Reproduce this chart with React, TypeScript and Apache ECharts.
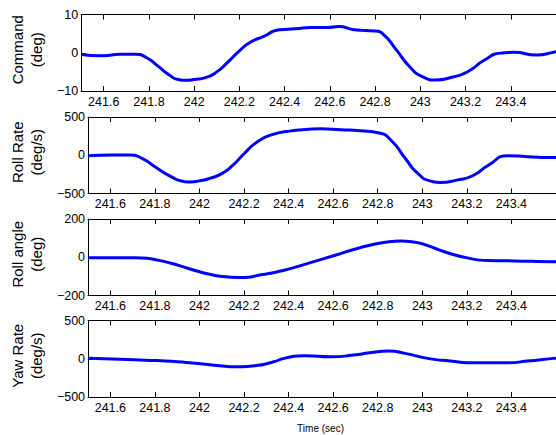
import React, { useEffect, useRef } from "react";
import * as echarts from "echarts";

// x tick labels (time, sec)
const xTicks = [241.6, 241.8, 242, 242.2, 242.4, 242.6, 242.8, 243, 243.2, 243.4];
const xMin = 241.5;
const xMax = 243.6;

const panelNames = ["Command\n(deg)", "Roll Rate\n(deg/s)", "Roll angle\n(deg)", "Yaw Rate\n(deg/s)"];
const yMins = [-10, -500, -200, -500];
const yMaxs = [10, 500, 200, 500];
const yIntervals = [10, 500, 200, 500];

// Command (deg)
const cmdT = [241.5, 241.6, 241.67, 241.74, 241.79, 241.84, 241.89, 241.93, 241.965, 242.0, 242.05, 242.1, 242.15, 242.2, 242.25, 242.305, 242.377, 242.447, 242.519, 242.59, 242.64, 242.7, 242.76, 242.8, 242.84, 242.894, 242.952, 243.009, 243.067, 243.139, 243.211, 243.284, 243.356, 243.413, 243.515, 243.587, 243.6];
const cmdV = [-0.4, -0.8, -0.4, -0.4, -1.3, -3.5, -5.8, -7.0, -7.2, -7.0, -6.5, -5.0, -2.4, 0.5, 2.8, 4.2, 6.0, 6.25, 6.6, 6.6, 6.85, 6.1, 5.8, 5.7, 4.6, 0.75, -3.6, -6.25, -7.1, -6.4, -4.9, -1.9, -0.1, 0.1, -0.6, 0.1, 0.3];

// Roll Rate (deg/s)
const rateT = [241.5, 241.61, 241.685, 241.742, 241.8, 241.872, 241.93, 241.96, 242.0, 242.045, 242.1, 242.15, 242.2, 242.262, 242.334, 242.392, 242.461, 242.548, 242.634, 242.72, 242.807, 242.865, 242.923, 242.98, 243.038, 243.081, 243.154, 243.226, 243.298, 243.384, 243.471, 243.587, 243.6];
const rateV = [-5, 4, 4, -40, -150, -280, -343, -350, -335, -303, -240, -130, 20, 180, 276, 310, 333, 346, 333, 320, 290, 180, -40, -237, -338, -355, -325, -268, -128, -5, -18, -30, -30];

// Roll angle (deg)
const angT = [241.5, 241.65, 241.74, 241.8, 241.872, 241.94, 241.988, 242.05, 242.103, 242.19, 242.276, 242.38, 242.49, 242.605, 242.72, 242.807, 242.86, 242.908, 242.96, 243.02, 243.096, 243.197, 243.298, 243.413, 243.587, 243.6];
const angV = [-2, -2, -4, -12, -31, -55, -72, -90, -101, -106, -92, -68, -31, 9, 50, 73, 82, 85, 80, 63, 30, -2, -17, -19, -23, -23];

// Yaw Rate (deg/s)
const yawT = [241.5, 241.61, 241.757, 241.901, 242.016, 242.103, 242.175, 242.248, 242.334, 242.38, 242.475, 242.59, 242.692, 242.764, 242.85, 242.923, 243.024, 243.125, 243.24, 243.384, 243.471, 243.587, 243.6];
const yawV = [8, -3, -18, -40, -70, -96, -105, -92, -40, 5, 39, 26, 48, 78, 100, 70, 5, -30, -53, -53, -30, 5, 8];

const seriesT = [cmdT, rateT, angT, yawT];
const seriesV = [cmdV, rateV, angV, yawV];

const FONT = "'Liberation Sans', Arial, Helvetica, sans-serif";

export default function App() {
  const ref = useRef<HTMLDivElement>(null);
  useEffect(() => {
    if (!ref.current) return;
    const chart = echarts.init(ref.current, undefined, { renderer: "svg" });
    const tops = [14.5, 117, 219, 320.5];
    const grids = tops.map((t) => ({ left: 74, right: -5, top: t, height: 76.5 }));
    const xAxes: any[] = [];
    const yAxes: any[] = [];
    const series: any[] = [];
    for (let i = 0; i < 4; i++) {
      xAxes.push({
        type: "value",
        gridIndex: i,
        position: "bottom",
        min: xMin,
        max: xMax,
        splitLine: { show: false },
        axisLine: { show: true, onZero: false, lineStyle: { color: "#000", width: 1 } },
        axisTick: { show: true, inside: true, length: 5, customValues: xTicks, lineStyle: { color: "#000" } },
        axisLabel: {
          show: true,
          customValues: xTicks,
          margin: 4,
          color: "#000",
          fontSize: 12.5,
          fontFamily: FONT,
          formatter: (v: number) => String(v),
        },
        name: i === 3 ? "Time (sec)" : "",
        nameLocation: "middle",
        nameGap: 26,
        nameTextStyle: { color: "#000", fontSize: 10, fontFamily: FONT, padding: [0, 0, 0, -3] },
      });
      xAxes.push({
        type: "value",
        gridIndex: i,
        position: "top",
        min: xMin,
        max: xMax,
        splitLine: { show: false },
        axisLine: { show: true, onZero: false, lineStyle: { color: "#000", width: 1 } },
        axisTick: { show: true, inside: true, length: 5, customValues: xTicks, lineStyle: { color: "#000" } },
        axisLabel: { show: false },
      });
      yAxes.push({
        type: "value",
        gridIndex: i,
        position: "left",
        min: yMins[i],
        max: yMaxs[i],
        interval: yIntervals[i],
        splitLine: { show: false },
        axisLine: { show: true, onZero: false, lineStyle: { color: "#000", width: 1 } },
        axisTick: { show: true, inside: true, length: 5, lineStyle: { color: "#000" } },
        axisLabel: {
          margin: 3,
          color: "#000",
          fontSize: 12.5,
          fontFamily: FONT,
          formatter: (v: number) => (v < 0 ? "\u2212" + Math.abs(v) : String(v)),
        },
        name: panelNames[i],
        nameLocation: "middle",
        nameRotate: 90,
        nameGap: 25,
        nameTextStyle: { color: "#000", fontSize: 15, lineHeight: 19, fontFamily: FONT, padding: [0, 0, 0, 6] },
      });
      series.push({
        type: "line",
        xAxisIndex: i * 2,
        yAxisIndex: i,
        data: seriesT[i].map((t, k) => [t, seriesV[i][k]]),
        smooth: 0.6,
        showSymbol: false,
        symbol: "none",
        lineStyle: { color: "#0000ff", width: 3 },
        clip: true,
      });
    }
    chart.setOption({
      animation: false,
      backgroundColor: "#fff",
      grid: grids,
      xAxis: xAxes,
      yAxis: yAxes,
      series,
    });
    return () => chart.dispose();
  }, []);
  return (
    <div
      ref={ref}
      style={{ position: "fixed", left: 0, top: 0, width: 556, height: 435, background: "#fff" }}
    />
  );
}
